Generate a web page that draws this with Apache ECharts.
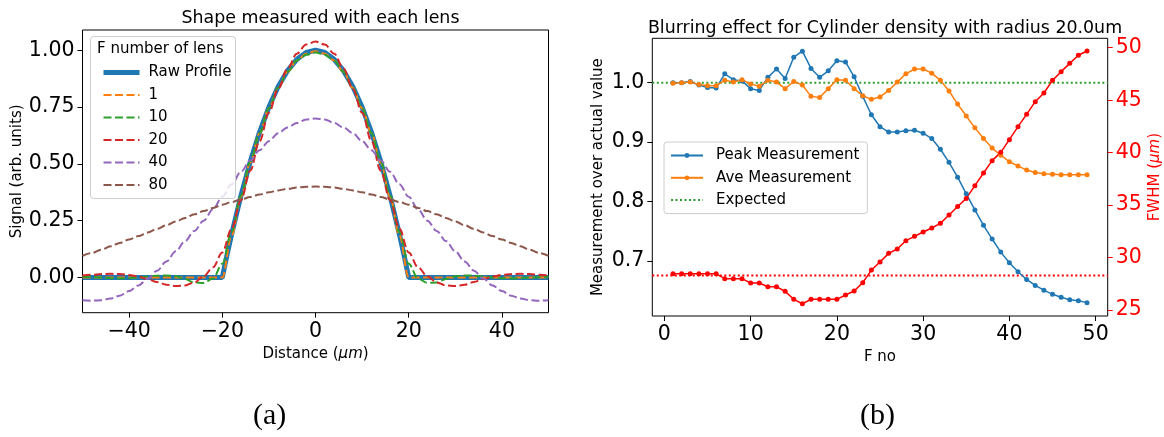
<!DOCTYPE html>
<html>
<head>
<meta charset="utf-8">
<script src="https://cdn.jsdelivr.net/npm/echarts@6.0.0/dist/echarts.min.js"></script>
<style>
html,body{margin:0;padding:0;background:#fff;}
#chart{width:1164px;height:437px;}
</style>
</head>
<body>
<div id="chart"></div>
<script>
// ---------- Panel (a): shape measured with each lens ----------
const distX = [-50,-48,-46,-44,-42,-40,-38,-36,-34,-32,-30,-28,-26,-24,-22,-20,-18,-16,-14,-12,-10,-8,-6,-4,-2,0,2,4,6,8,10,12,14,16,18,20,22,24,26,28,30,32,34,36,38,40,42,44,46,48,50];
const rawX = [-50,-20,-19,-18,-16,-14,-12,-10,-8,-6,-4,-2,0,2,4,6,8,10,12,14,16,18,19,20,50];
const rawProfile = [0,0,0.0975,0.19,0.36,0.51,0.64,0.75,0.84,0.91,0.96,0.99,1.0,0.99,0.96,0.91,0.84,0.75,0.64,0.51,0.36,0.19,0.0975,0,0];
const lensF1 = [0,0,0,0,0,0,0,0,0,0,0,0,0,0,0,0,0.185,0.355,0.505,0.635,0.745,0.835,0.905,0.955,0.985,0.995,0.985,0.955,0.905,0.835,0.745,0.635,0.505,0.355,0.185,0,0,0,0,0,0,0,0,0,0,0,0,0,0,0,0];
const lensF10 = [0.003,0.002,0.0,-0.003,-0.004,-0.003,0.0,0.004,0.008,0.009,0.005,-0.007,-0.022,-0.024,-0.005,0.06,0.20,0.36,0.51,0.635,0.745,0.835,0.905,0.955,0.98,0.99,0.98,0.955,0.905,0.835,0.745,0.635,0.51,0.36,0.20,0.06,-0.005,-0.024,-0.022,-0.007,0.005,0.009,0.008,0.004,0.0,-0.003,-0.004,-0.003,0.0,0.002,0.003];
const lensF20 = [0.009,0.012,0.015,0.016,0.015,0.011,0.004,-0.007,-0.02,-0.032,-0.038,-0.035,-0.022,0.005,0.045,0.11,0.215,0.34,0.47,0.60,0.725,0.83,0.92,0.985,1.025,1.038,1.025,0.985,0.92,0.83,0.725,0.60,0.47,0.34,0.215,0.11,0.045,0.005,-0.022,-0.035,-0.038,-0.032,-0.02,-0.007,0.004,0.011,0.015,0.016,0.015,0.012,0.009];
const lensF40 = [-0.10,-0.102,-0.10,-0.093,-0.08,-0.06,-0.035,-0.005,0.03,0.07,0.115,0.16,0.205,0.25,0.30,0.355,0.41,0.465,0.515,0.56,0.60,0.635,0.66,0.68,0.695,0.70,0.695,0.68,0.66,0.635,0.60,0.56,0.515,0.465,0.41,0.355,0.30,0.25,0.205,0.16,0.115,0.07,0.03,-0.005,-0.035,-0.06,-0.08,-0.093,-0.10,-0.102,-0.10];
const lensF80 = [0.095,0.108,0.122,0.137,0.152,0.167,0.182,0.198,0.214,0.23,0.246,0.262,0.278,0.292,0.306,0.32,0.332,0.343,0.354,0.365,0.375,0.383,0.39,0.396,0.399,0.40,0.399,0.396,0.39,0.383,0.375,0.365,0.354,0.343,0.332,0.32,0.306,0.292,0.278,0.262,0.246,0.23,0.214,0.198,0.182,0.167,0.152,0.137,0.122,0.108,0.095];
const lensNames = ['1','10','20','40','80'];
const distTicks = [-40,-20,0,20,40];
const signalTicks = [0,0.25,0.5,0.75,1.0];

// ---------- Panel (b): blurring effect ----------
const fNo = [1,2,3,4,5,6,7,8,9,10,11,12,13,14,15,16,17,18,19,20,21,22,23,24,25,26,27,28,29,30,31,32,33,34,35,36,37,38,39,40,41,42,43,44,45,46,47,48,49];
const peakMeas = [1.000,1.000,1.002,0.996,0.992,0.991,1.015,1.005,1.003,0.990,0.987,1.009,1.023,1.007,1.043,1.053,1.024,1.009,1.020,1.037,1.035,1.010,0.977,0.946,0.926,0.917,0.917,0.919,0.920,0.915,0.906,0.888,0.866,0.841,0.813,0.786,0.760,0.737,0.715,0.697,0.682,0.669,0.659,0.651,0.644,0.639,0.635,0.633,0.630];
const aveMeas = [0.999,1.000,1.001,0.997,0.995,0.995,1.004,1.001,1.005,0.998,0.994,1.004,1.001,0.990,1.002,0.996,0.977,0.975,0.990,1.005,1.004,0.990,0.978,0.972,0.976,0.987,1.001,1.015,1.023,1.023,1.016,1.004,0.986,0.964,0.944,0.924,0.906,0.890,0.878,0.867,0.860,0.853,0.849,0.847,0.846,0.845,0.845,0.845,0.845];
const fwhm = [28.45,28.45,28.45,28.45,28.45,28.45,27.99,27.99,27.99,27.57,27.57,27.22,27.22,26.78,26.02,25.6,26.02,26.02,26.02,26.02,26.43,26.81,27.61,28.81,29.58,30.40,30.82,31.61,32.02,32.44,32.82,33.26,34.06,34.86,35.64,36.85,38.06,39.24,40.03,41.24,42.48,43.65,44.86,45.69,46.89,47.72,48.51,49.28,49.69];
const expectedRatio = 1.0;
const expectedFwhm = 28.28;
const fTicks = [0,10,20,30,40,50];
const ratioTicks = [0.7,0.8,0.9,1.0];
const fwhmTicks = [25,30,35,40,45,50];

const pair = (xs, ys) => xs.map((x, i) => [x, ys[i]]);
const minusFmt = v => (v < 0 ? '\u2212' + Math.abs(v) : String(v));
const FONT = 'DejaVu Sans';
const lensColors = ['#ff7f0e','#2ca02c','#d62728','#9467bd','#8c564b'];
const lensData = [lensF1, lensF10, lensF20, lensF40, lensF80];

const chart = echarts.init(document.getElementById('chart'), null, {renderer: 'canvas'});

const tickStyle = (color) => ({show: true, inside: false, length: 5, lineStyle: {color: color, width: 1}});
const labelStyle = (color, margin) => ({color: color, fontFamily: FONT, fontSize: 20.5, margin: margin});

const series = [
  {
    name: 'Raw Profile', type: 'line', xAxisIndex: 0, yAxisIndex: 0,
    data: pair(rawX, rawProfile), symbol: 'none',
    lineStyle: {color: '#1f77b4', width: 5}, itemStyle: {color: '#1f77b4'}, z: 2
  }
];
lensNames.forEach((n, i) => {
  series.push({
    name: n, type: 'line', xAxisIndex: 0, yAxisIndex: 0,
    data: pair(distX, lensData[i]), symbol: 'none', smooth: 0.35, smoothMonotone: 'x',
    lineStyle: {color: lensColors[i], width: 2, type: [8, 3.5]}, itemStyle: {color: lensColors[i]}, z: 3
  });
});
series.push(
  {
    name: 'Peak Measurement', type: 'line', xAxisIndex: 1, yAxisIndex: 1,
    data: pair(fNo, peakMeas), symbol: 'circle', symbolSize: 5,
    lineStyle: {color: '#1f77b4', width: 1.5}, itemStyle: {color: '#1f77b4'}, z: 3
  },
  {
    name: 'Ave Measurement', type: 'line', xAxisIndex: 1, yAxisIndex: 1,
    data: pair(fNo, aveMeas), symbol: 'circle', symbolSize: 5,
    lineStyle: {color: '#ff7f0e', width: 1.5}, itemStyle: {color: '#ff7f0e'}, z: 3
  },
  {
    name: 'Expected', type: 'line', xAxisIndex: 1, yAxisIndex: 1,
    data: [[-1.4, expectedRatio], [51.4, expectedRatio]], symbol: 'none',
    lineStyle: {color: '#2ca02c', width: 2, type: [2, 2.5]}, itemStyle: {color: '#2ca02c'}, z: 2
  },
  {
    name: 'FWHM', type: 'line', xAxisIndex: 1, yAxisIndex: 2,
    data: pair(fNo, fwhm), symbol: 'circle', symbolSize: 5,
    lineStyle: {color: '#ff0000', width: 1.5}, itemStyle: {color: '#ff0000'}, z: 3
  },
  {
    name: 'FWHM expected', type: 'line', xAxisIndex: 1, yAxisIndex: 2,
    data: [[-1.4, expectedFwhm], [51.4, expectedFwhm]], symbol: 'none',
    lineStyle: {color: '#ff0000', width: 2, type: [2, 2.5]}, itemStyle: {color: '#ff0000'}, z: 2
  }
);

const option = {
  animation: false,
  backgroundColor: '#fff',
  textStyle: {fontFamily: FONT},
  title: [
    {text: 'Shape measured with each lens', left: 315.5, top: 4.5, textAlign: 'center',
     textStyle: {fontFamily: FONT, fontSize: 17.4, fontWeight: 'normal', color: '#000'}},
    {text: 'Blurring effect for Cylinder density with radius 20.0um', left: 880, top: 14.5, textAlign: 'center',
     textStyle: {fontFamily: FONT, fontSize: 17.4, fontWeight: 'normal', color: '#000'}}
  ],
  grid: [
    {left: 82.5, top: 30, width: 466, height: 282.7, show: true, borderColor: '#000', borderWidth: 1, containLabel: false, outerBoundsMode: 'none'},
    {left: 652.3, top: 38.3, width: 455.4, height: 277.7, show: true, borderColor: '#000', borderWidth: 1, containLabel: false, outerBoundsMode: 'none'}
  ],
  xAxis: [
    {type: 'value', gridIndex: 0, min: -50, max: 50,
     axisLine: {show: false, onZero: false}, splitLine: {show: false},
     axisTick: Object.assign(tickStyle('#000'), {customValues: distTicks}),
     axisLabel: Object.assign(labelStyle('#000', 8), {customValues: distTicks, formatter: minusFmt}),
     name: 'Distance ({i|μm})', nameLocation: 'middle', nameGap: 32,
     nameTextStyle: {fontFamily: FONT, fontSize: 15, color: '#000', rich: {i: {fontFamily: FONT, fontSize: 15, fontStyle: 'italic', color: '#000'}}}},
    {type: 'value', gridIndex: 1, min: -1.4, max: 51.4,
     axisLine: {show: false, onZero: false}, splitLine: {show: false},
     axisTick: Object.assign(tickStyle('#000'), {customValues: fTicks}),
     axisLabel: Object.assign(labelStyle('#000', 8), {customValues: fTicks}),
     name: 'F no', nameLocation: 'middle', nameGap: 31,
     nameTextStyle: {fontFamily: FONT, fontSize: 15, color: '#000'}}
  ],
  yAxis: [
    {type: 'value', gridIndex: 0, min: -0.155, max: 1.089,
     axisLine: {show: false, onZero: false}, splitLine: {show: false},
     axisTick: Object.assign(tickStyle('#000'), {customValues: signalTicks}),
     axisLabel: Object.assign(labelStyle('#000', 8), {customValues: signalTicks, formatter: v => v.toFixed(2)}),
     name: 'Signal (arb. units)', nameLocation: 'middle', nameGap: 57,
     nameTextStyle: {fontFamily: FONT, fontSize: 15, color: '#000'}},
    {type: 'value', gridIndex: 1, position: 'left', min: 0.6075, max: 1.0747,
     axisLine: {show: false, onZero: false}, splitLine: {show: false},
     axisTick: Object.assign(tickStyle('#000'), {customValues: ratioTicks}),
     axisLabel: Object.assign(labelStyle('#000', 8), {customValues: ratioTicks, formatter: v => v.toFixed(1)}),
     name: 'Measurement over actual value', nameLocation: 'middle', nameGap: 47,
     nameTextStyle: {fontFamily: FONT, fontSize: 15, color: '#000'}},
    {type: 'value', gridIndex: 1, position: 'right', min: 24.43, max: 50.9,
     axisLine: {show: false, onZero: false}, splitLine: {show: false},
     axisTick: Object.assign(tickStyle('#ff0000'), {customValues: fwhmTicks}),
     axisLabel: Object.assign(labelStyle('#ff0000', 8), {customValues: fwhmTicks}),
     name: 'FWHM ({i|μm})', nameLocation: 'middle', nameGap: 40,
     nameTextStyle: {fontFamily: FONT, fontSize: 15, color: '#ff0000', rich: {i: {fontFamily: FONT, fontSize: 15, fontStyle: 'italic', color: '#ff0000'}}}}
  ],
  legend: [
    {data: [{name: 'Raw Profile', lineStyle: {width: 5}}].concat(lensNames),
     orient: 'vertical', left: 96, top: 60,
     itemWidth: 36, itemHeight: 12, itemGap: 7.5, z: 60,
     itemStyle: {opacity: 0},
     textStyle: {fontFamily: FONT, fontSize: 15, color: '#000', padding: [0, 0, 0, 4]},
     selectedMode: false},
    {data: ['Peak Measurement', 'Ave Measurement', {name: 'Expected', itemStyle: {opacity: 0}}],
     orient: 'vertical', left: 664, top: 142,
     itemWidth: 32, itemHeight: 6, itemGap: 7.3, z: 60, padding: [6, 8, 6, 6],
     backgroundColor: 'rgba(255,255,255,0.8)', borderColor: '#cccccc', borderWidth: 1, borderRadius: 3,
     textStyle: {fontFamily: FONT, fontSize: 15, color: '#000', padding: [0, 0, 0, 8]},
     selectedMode: false}
  ],
  graphic: [
    {type: 'rect', left: 90, top: 36, z: 50,
     shape: {width: 145, height: 162, r: 3},
     style: {fill: 'rgba(255,255,255,0.8)', stroke: '#cccccc', lineWidth: 1}},
    {type: 'text', left: 97, top: 42, z: 61,
     style: {text: 'F number of lens', fontFamily: FONT, fontSize: 15, fill: '#000'}},
    {type: 'text', left: 253, top: 401, z: 61,
     style: {text: '(a)', fontFamily: 'Liberation Serif', fontSize: 30, fill: '#000'}},
    {type: 'text', left: 860, top: 401, z: 61,
     style: {text: '(b)', fontFamily: 'Liberation Serif', fontSize: 30, fill: '#000'}}
  ],
  series: series
};
chart.setOption(option);
</script>
</body>
</html>
